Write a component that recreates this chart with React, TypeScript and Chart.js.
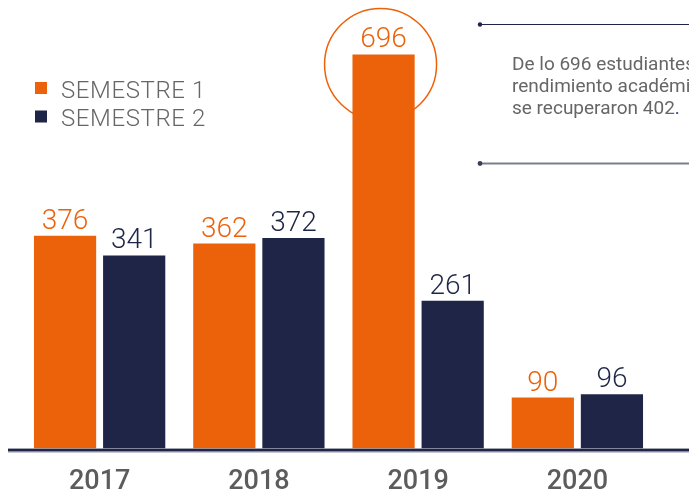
import React, { useEffect, useRef } from "react";
import { Chart, registerables } from "chart.js";

Chart.register(...registerables);

const years = ["2017", "2018", "2019", "2020"];
const semestre1 = [376, 362, 696, 90];
const semestre2 = [341, 372, 261, 96];
const seriesNames = ["SEMESTRE 1", "SEMESTRE 2"];
const noteLines = ["De lo 696 estudiantes con bajo", "rendimiento académico", "se recuperaron 402"];

const ORANGE = "#EC620A";
const NAVY = "#1F2547";
const GRAY = "#5c5c5c";

const overlayPlugin = {
  id: "overlay",
  beforeDatasetsDraw(chart: any) {
    const ctx = chart.ctx;
    const bar = chart.getDatasetMeta(0).data[2];
    if (!bar) return;
    ctx.save();
    ctx.strokeStyle = ORANGE;
    ctx.lineWidth = 1.5;
    ctx.beginPath();
    ctx.arc(bar.x - 3, bar.y + 10, 56, 0, Math.PI * 2);
    ctx.stroke();
    ctx.restore();
  },
  afterDatasetsDraw(chart: any) {
    const ctx = chart.ctx;
    const area = chart.chartArea;
    ctx.save();
    // value labels
    chart.data.datasets.forEach((ds: any, di: number) => {
      const meta = chart.getDatasetMeta(di);
      meta.data.forEach((el: any, i: number) => {
        ctx.fillStyle = di === 0 ? ORANGE : NAVY;
        ctx.font = "300 28px Roboto";
        ctx.textAlign = "center";
        ctx.textBaseline = "alphabetic";
        ctx.fillText(String(ds.data[i]), el.x, el.y - 7);
      });
    });
    // axis line
    ctx.fillStyle = NAVY;
    ctx.fillRect(8, area.bottom, chart.width - 8, 3);
    ctx.fillStyle = "#a3a5b3";
    ctx.fillRect(8, area.bottom + 3, chart.width - 8, 1);
    // legend
    const legendColors = [ORANGE, NAVY];
    seriesNames.forEach((name, i) => {
      const cy = 88 + i * 28.5;
      ctx.fillStyle = legendColors[i];
      ctx.fillRect(35, cy - 6, 12, 12);
      ctx.fillStyle = "#666666";
      ctx.font = "300 24px Roboto";
      ctx.textAlign = "left";
      ctx.textBaseline = "alphabetic";
      (ctx as any).letterSpacing = "0.6px";
      ctx.fillText(name, 61, cy + 9.5);
      (ctx as any).letterSpacing = "0px";
    });
    // annotation lines
    ctx.strokeStyle = NAVY;
    ctx.lineWidth = 1;
    ctx.beginPath();
    ctx.moveTo(480, 24.5);
    ctx.lineTo(chart.width, 24.5);
    ctx.stroke();
    ctx.fillStyle = NAVY;
    ctx.beginPath();
    ctx.arc(480, 24.5, 2.2, 0, Math.PI * 2);
    ctx.fill();
    ctx.strokeStyle = "#7b7e8c";
    ctx.lineWidth = 2;
    ctx.beginPath();
    ctx.moveTo(480, 163.5);
    ctx.lineTo(chart.width, 163.5);
    ctx.stroke();
    ctx.fillStyle = "#3a3f58";
    ctx.beginPath();
    ctx.arc(480, 163.5, 2.4, 0, Math.PI * 2);
    ctx.fill();
    // annotation text
    ctx.font = "400 19px Roboto";
    ctx.textAlign = "left";
    ctx.textBaseline = "alphabetic";
    noteLines.forEach((line, i) => {
      const y = 70 + i * 22;
      ctx.fillStyle = "#666666";
      ctx.fillText(line, 512, y);
      if (i === noteLines.length - 1) {
        const w = ctx.measureText(line).width;
        ctx.fillStyle = "#2a4a9a";
        ctx.fillText(".", 512 + w, y);
      }
    });
    ctx.restore();
  },
};

export default function App() {
  const ref = useRef<HTMLCanvasElement | null>(null);
  useEffect(() => {
    if (!ref.current) return;
    const chart = new Chart(ref.current, {
      type: "bar",
      data: {
        labels: years,
        datasets: [
          { label: seriesNames[0], data: semestre1, backgroundColor: ORANGE, barPercentage: 0.9, categoryPercentage: 0.868 },
          { label: seriesNames[1], data: semestre2, backgroundColor: NAVY, barPercentage: 0.9, categoryPercentage: 0.868 },
        ],
      },
      options: {
        animation: false,
        responsive: false,
        devicePixelRatio: 1,
        layout: { padding: { left: 20, right: 32, top: 0, bottom: 0 } },
        plugins: { legend: { display: false }, tooltip: { enabled: false } },
        scales: {
          x: {
            grid: { display: false, drawTicks: false },
            border: { display: false },
            ticks: { color: GRAY, font: { family: "Roboto", size: 27, weight: "500" }, padding: 17 },
          },
          y: { display: false, min: 0, max: 792 },
        },
      },
      plugins: [overlayPlugin],
    });
    return () => chart.destroy();
  }, []);
  return (
    <div style={{ position: "fixed", left: 0, top: 0, width: 689, height: 496, overflow: "hidden", background: "#fff" }}>
      <canvas ref={ref} width={689} height={515} style={{ width: 689, height: 515, display: "block" }} />
    </div>
  );
}
